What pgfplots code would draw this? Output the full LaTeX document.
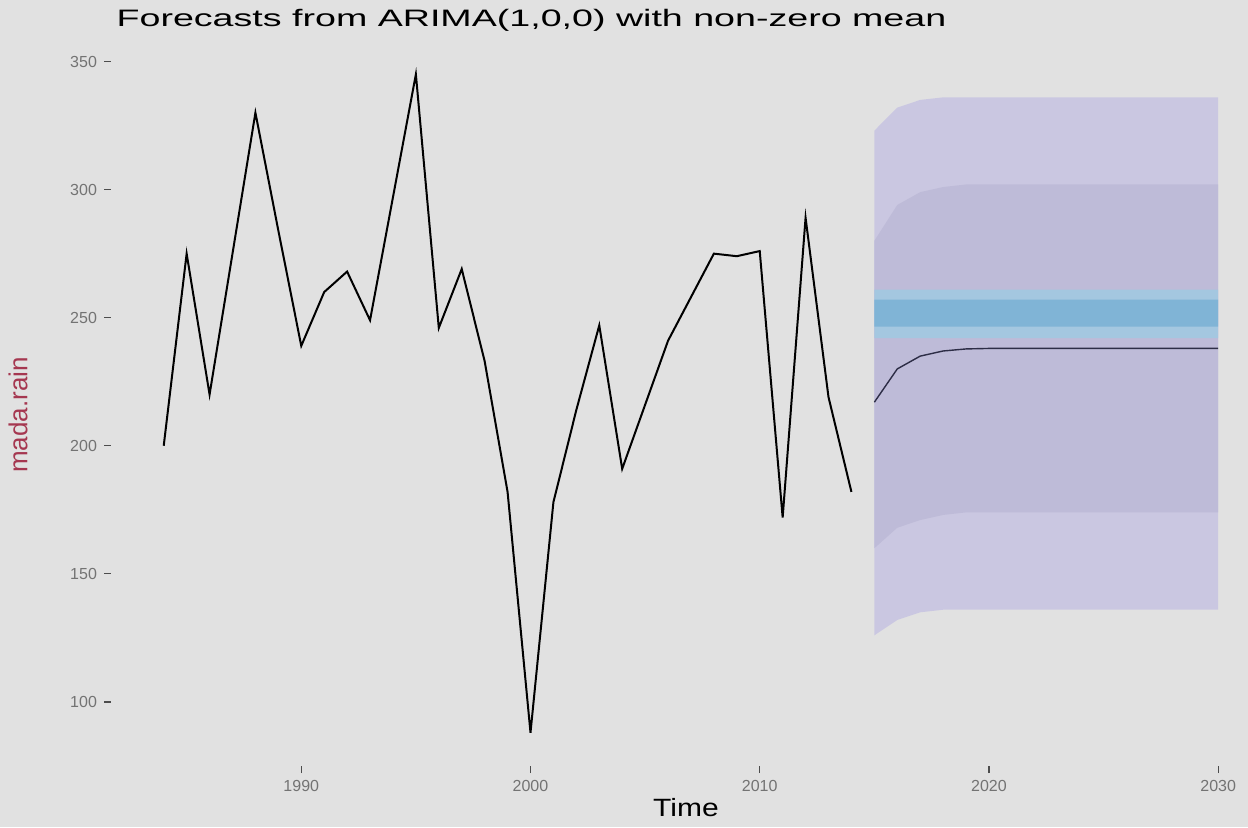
\documentclass[border=0pt]{standalone}
\usepackage{pgfplots}
\pgfplotsset{compat=1.18}
\usepackage{pgfplotstable}
\usepgfplotslibrary{fillbetween}
\usepackage{fontspec}
\setmainfont{Liberation Sans}
\definecolor{bg}{RGB}{225,225,225}
\definecolor{outerband}{RGB}{202,199,225}
\definecolor{innerband}{RGB}{190,187,216}
\definecolor{blueout}{RGB}{164,199,224}
\definecolor{bluecore}{RGB}{128,180,214}
\definecolor{ticklab}{RGB}{115,115,115}
\definecolor{ylab}{RGB}{165,55,80}
\definecolor{fcline}{RGB}{45,45,70}
\pagecolor{bg}

\pgfplotstableread{
year value
1984 200
1985 275
1986 220
1987 275
1988 330
1989 284
1990 239
1991 260
1992 268
1993 249
1994 297
1995 345
1996 246
1997 269
1998 233
1999 182
2000 88
2001 178
2002 214
2003 247
2004 191
2005 216
2006 241
2007 258
2008 275
2009 274
2010 276
2011 172
2012 289
2013 219
2014 182
}\raintable

\pgfplotstableread{
year fc lo80 hi80 lo95 hi95 blo bhi clo chi
2015 217 160 280 126 323 242 261 246.5 257
2016 230 168 294 132 332 242 261 246.5 257
2017 235 171 299 135 335 242 261 246.5 257
2018 237 173 301 136 336 242 261 246.5 257
2019 237.8 174 302 136 336 242 261 246.5 257
2020 238 174 302 136 336 242 261 246.5 257
2021 238 174 302 136 336 242 261 246.5 257
2022 238 174 302 136 336 242 261 246.5 257
2023 238 174 302 136 336 242 261 246.5 257
2024 238 174 302 136 336 242 261 246.5 257
2025 238 174 302 136 336 242 261 246.5 257
2026 238 174 302 136 336 242 261 246.5 257
2027 238 174 302 136 336 242 261 246.5 257
2028 238 174 302 136 336 242 261 246.5 257
2029 238 174 302 136 336 242 261 246.5 257
2030 238 174 302 136 336 242 261 246.5 257
}\fctable

\begin{document}
\begin{tikzpicture}
\path (0,0) rectangle (624pt,413.5pt);
\begin{axis}[
  at={(55.5pt,30.5pt)}, anchor=south west,
  scale only axis, width=568.5pt, height=362.5pt,
  xmin=1981.7, xmax=2031.3, ymin=75, ymax=358,
  axis line style={draw=none},
  xtick={1990,2000,2010,2020,2030},
  ytick={100,150,200,250,300,350},
  xticklabel style={/pgf/number format/1000 sep={}},
  /pgf/number format/assume math mode=true,
  tick align=outside,
  major tick length=3.5pt,
  tick style={draw=black!70, line width=0.6pt},
  ticklabel style={font=\fontsize{8}{9}\selectfont, text=ticklab},
  xtick pos=bottom, ytick pos=left,
]
\addplot[draw=none, name path=hA] table[x=year,y=hi95] {\fctable};
\addplot[draw=none, name path=lA] table[x=year,y=lo95] {\fctable};
\addplot[fill=outerband, draw=none] fill between[of=hA and lA];
\addplot[draw=none, name path=hB] table[x=year,y=hi80] {\fctable};
\addplot[draw=none, name path=lB] table[x=year,y=lo80] {\fctable};
\addplot[fill=innerband, draw=none] fill between[of=hB and lB];
\addplot[draw=none, name path=hC] table[x=year,y=bhi] {\fctable};
\addplot[draw=none, name path=lC] table[x=year,y=blo] {\fctable};
\addplot[fill=blueout, draw=none] fill between[of=hC and lC];
\addplot[draw=none, name path=hD] table[x=year,y=chi] {\fctable};
\addplot[draw=none, name path=lD] table[x=year,y=clo] {\fctable};
\addplot[fill=bluecore, draw=none] fill between[of=hD and lD];
\addplot[fcline, line width=0.7pt] table[x=year,y=fc] {\fctable};
\addplot[black, line width=1pt, line join=miter] table[x=year,y=value] {\raintable};
\end{axis}
\node[anchor=base west, inner sep=0pt, font=\fontsize{11.9}{14}\selectfont, xscale=1.58] at (58pt,400pt) {Forecasts from ARIMA(1,0,0) with non-zero mean};
\node[anchor=center, inner sep=0pt, font=\fontsize{12.5}{14}\selectfont, xscale=1.2] at (343pt,9.5pt) {Time};
\node[anchor=center, inner sep=0pt, rotate=90, font=\fontsize{13}{15}\selectfont, text=ylab] at (9pt,206pt) {mada.rain};
\end{tikzpicture}
\end{document}
